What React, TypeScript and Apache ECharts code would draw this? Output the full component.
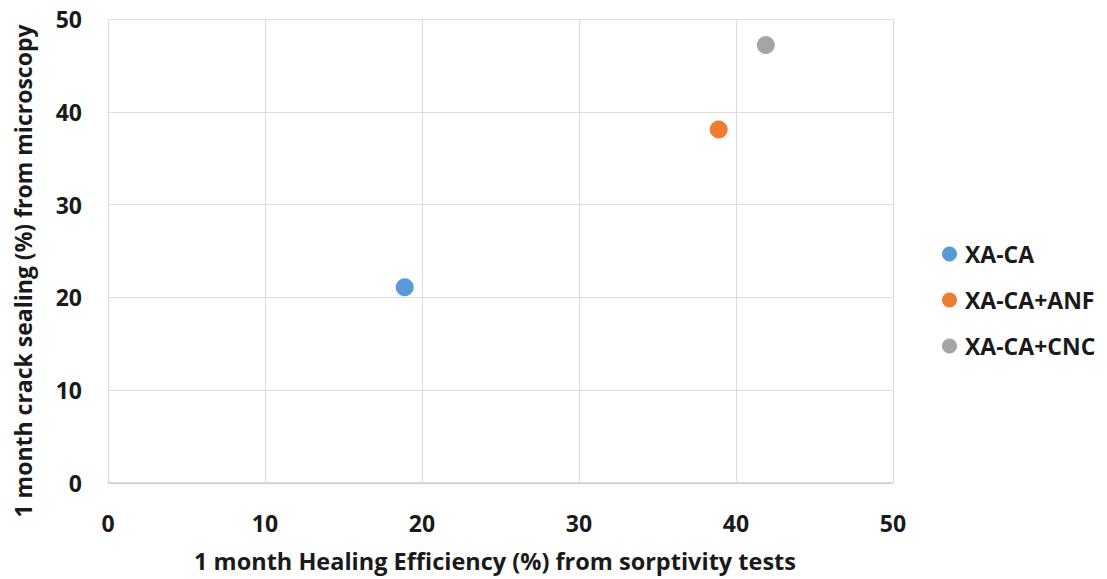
import React, { useEffect, useRef } from "react";
import * as echarts from "echarts";

const seriesNames = ["XA-CA", "XA-CA+ANF", "XA-CA+CNC"];
const healingEfficiency = [18.9, 38.9, 41.9];
const crackSealing = [21.1, 38.1, 47.2];
const colors = ["#5B9BD5", "#ED7D31", "#A5A5A5"];
const xTitle = "1 month Healing Efficiency (%) from sorptivity tests";
const yTitle = "1 month crack sealing (%) from microscopy";

const FONT = "'Open Sans', 'Noto Sans', sans-serif";
const TXT = "#1a1a1a";

export default function App() {
  const ref = useRef<HTMLDivElement>(null);
  useEffect(() => {
    if (!ref.current) return;
    const chart = echarts.init(ref.current, null, { renderer: "svg" });
    chart.setOption({
      animation: false,
      backgroundColor: "#ffffff",
      grid: { left: 108, top: 19, right: 214, bottom: 96, containLabel: false },
      legend: {
        orient: "vertical",
        left: 937,
        top: 237,
        itemGap: 22,
        itemWidth: 15,
        itemHeight: 15,
        icon: "circle",
        textStyle: { fontFamily: FONT, fontWeight: "bold", fontSize: 23, lineHeight: 24, color: TXT, padding: [0, 0, 0, 3] },
        data: seriesNames,
      },
      graphic: [
        {
          type: "text",
          x: 495,
          y: 561,
          style: { text: xTitle, fontFamily: FONT, fontWeight: "bold", fontSize: 23.5, fill: TXT, align: "center", verticalAlign: "middle" },
        },
        {
          type: "text",
          x: 23,
          y: 271,
          rotation: Math.PI / 2,
          style: { text: yTitle, fontFamily: FONT, fontWeight: "bold", fontSize: 23, fill: TXT, align: "center", verticalAlign: "middle" },
        },
      ],
      xAxis: {
        type: "value",
        min: 0,
        max: 50,
        interval: 10,
        axisLine: { show: true, lineStyle: { color: "#cfcfcf", width: 1.5 } },
        axisTick: { show: false },
        axisLabel: { fontFamily: FONT, fontWeight: "bold", fontSize: 23, color: TXT, margin: 28 },
        splitLine: { show: true, lineStyle: { color: "#dcdcdc", width: 1 } },
      },
      yAxis: {
        type: "value",
        min: 0,
        max: 50,
        interval: 10,
        axisLine: { show: false },
        axisTick: { show: false },
        axisLabel: { fontFamily: FONT, fontWeight: "bold", fontSize: 23, color: TXT, margin: 26 },
        splitLine: { show: true, lineStyle: { color: "#dcdcdc", width: 1 } },
      },
      series: seriesNames.map((name, i) => ({
        name,
        type: "scatter",
        symbol: "circle",
        symbolSize: 18,
        itemStyle: { color: colors[i], opacity: 1 },
        data: [[healingEfficiency[i], crackSealing[i]]],
      })),
    });
    return () => chart.dispose();
  }, []);
  return (
    <div
      ref={ref}
      style={{ position: "fixed", left: 0, top: 0, width: 1107, height: 579, background: "#ffffff" }}
    />
  );
}
